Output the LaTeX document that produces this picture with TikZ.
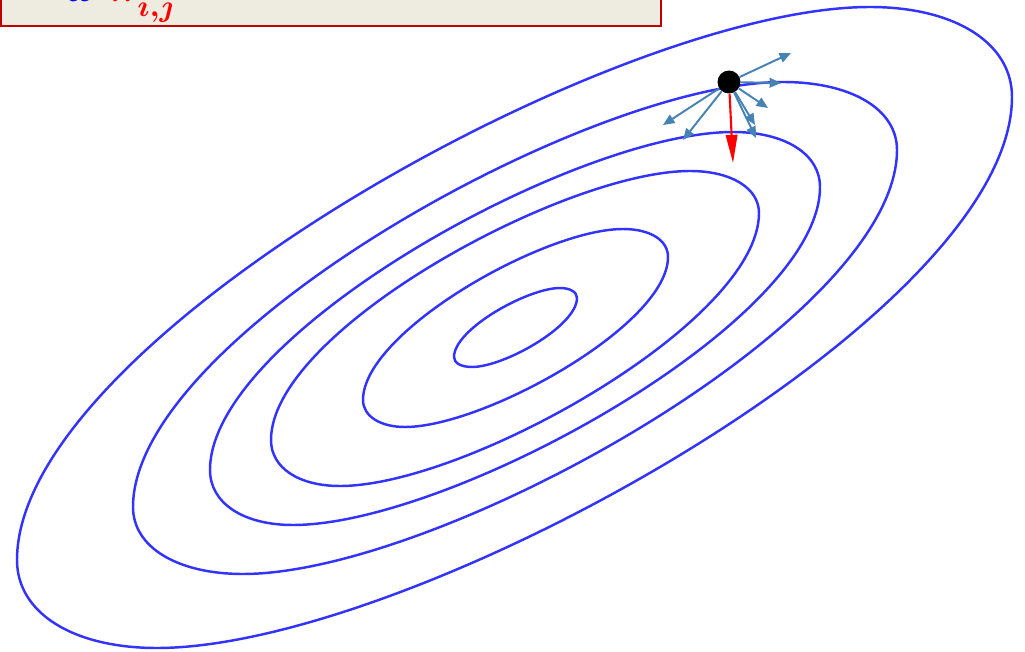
\documentclass[tikz,border=0pt]{standalone}
\usepackage{amsmath}
\usepackage{tikz}
\usetikzlibrary{arrows.meta}

\definecolor{contourblue}{RGB}{51,51,255}
\definecolor{gradblue}{RGB}{70,130,180}
\definecolor{boxfill}{RGB}{238,235,224}
\definecolor{boxred}{RGB}{192,0,0}

\begin{document}
\begin{tikzpicture}[x=0.02cm, y=-0.02cm,
    contour/.style={contourblue, line width=1.4pt},
    arrow/.style={-{Triangle[length=6.5pt, width=5.5pt]}, gradblue, line width=1.1pt},
    steepest/.style={-{Triangle[length=16pt, width=6.5pt]}, red, line width=1.2pt},
    point/.style={circle, fill=black, minimum size=0.46cm, inner sep=0pt}
]
\useasboundingbox (0,0) rectangle (1025,652);
\clip (0,0) rectangle (1025,652);
%% ============================================================
%% LABEL BOX (cut at the top edge)
%% ============================================================
\draw[boxred, fill=boxfill, line width=1pt] (1,-80) rectangle (661,26);
\node[anchor=base west, inner sep=0pt, font=\fontsize{26}{30}\selectfont\boldmath] (wij) at (66,2)
    {$\color{blue}\omega\,{\color{red}\pi_{\raisebox{-4.6pt}{$\scriptstyle i,j$}}}$};
%% ============================================================
%% CONTOUR LINES (outer to inner): top, right, bottom, left
%% ============================================================
\draw[contour] (870,7) .. controls (955,7) and (1012,43) .. (1012,97)
    .. controls (1012,317) and (412,648) .. (157,648)
    .. controls (73,648) and (17,613) .. (17,560)
    .. controls (17,340) and (615,7) .. cycle;
\draw[contour] (783,82) .. controls (851,82) and (897,109) .. (897,150)
    .. controls (897,320) and (439,574) .. (243,574)
    .. controls (177,574) and (133,547) .. (133,507)
    .. controls (133,337) and (587,82) .. cycle;
\draw[contour] (733,132) .. controls (785,132) and (820,154) .. (820,187)
    .. controls (820,322) and (451,525) .. (293,525)
    .. controls (243,525) and (210,503) .. (210,470)
    .. controls (210,335) and (575,132) .. cycle;
\draw[contour] (690,171) .. controls (731,171) and (759,188) .. (759,213)
    .. controls (759,322) and (466,486) .. (340,486)
    .. controls (299,486) and (271,468) .. (271,440)
    .. controls (271,331) and (564,171) .. cycle;
\draw[contour] (623,229) .. controls (650,229) and (668,240) .. (668,257)
    .. controls (668,325) and (484,427) .. (405,427)
    .. controls (380,427) and (363,416) .. (363,400)
    .. controls (363,332) and (544,229) .. cycle;
\draw[contour] (560,288) .. controls (570,288) and (577,292) .. (577,298)
    .. controls (577,326) and (504,367) .. (472,367)
    .. controls (461,367) and (454,363) .. (454,357)
    .. controls (454,329) and (528,288) .. cycle;
%% ============================================================
%% CURRENT POINT AND SAMPLED DIRECTIONS
%% ============================================================
\node[point] (w) at (729,82) {};
\coordinate (d1) at (791,53);
\coordinate (d2) at (781,83);
\coordinate (d3) at (768,108);
\coordinate (d4) at (755,125);
\coordinate (d5) at (756,138);
\coordinate (d6) at (663,125);
\coordinate (d7) at (683,140);
\coordinate (g) at (733,163);
\foreach \d in {d1,d2,d3,d4,d5,d6,d7}
    \draw[arrow] (w) -- (\d);
\draw[steepest] (w) -- (g);
\end{tikzpicture}
\end{document}
